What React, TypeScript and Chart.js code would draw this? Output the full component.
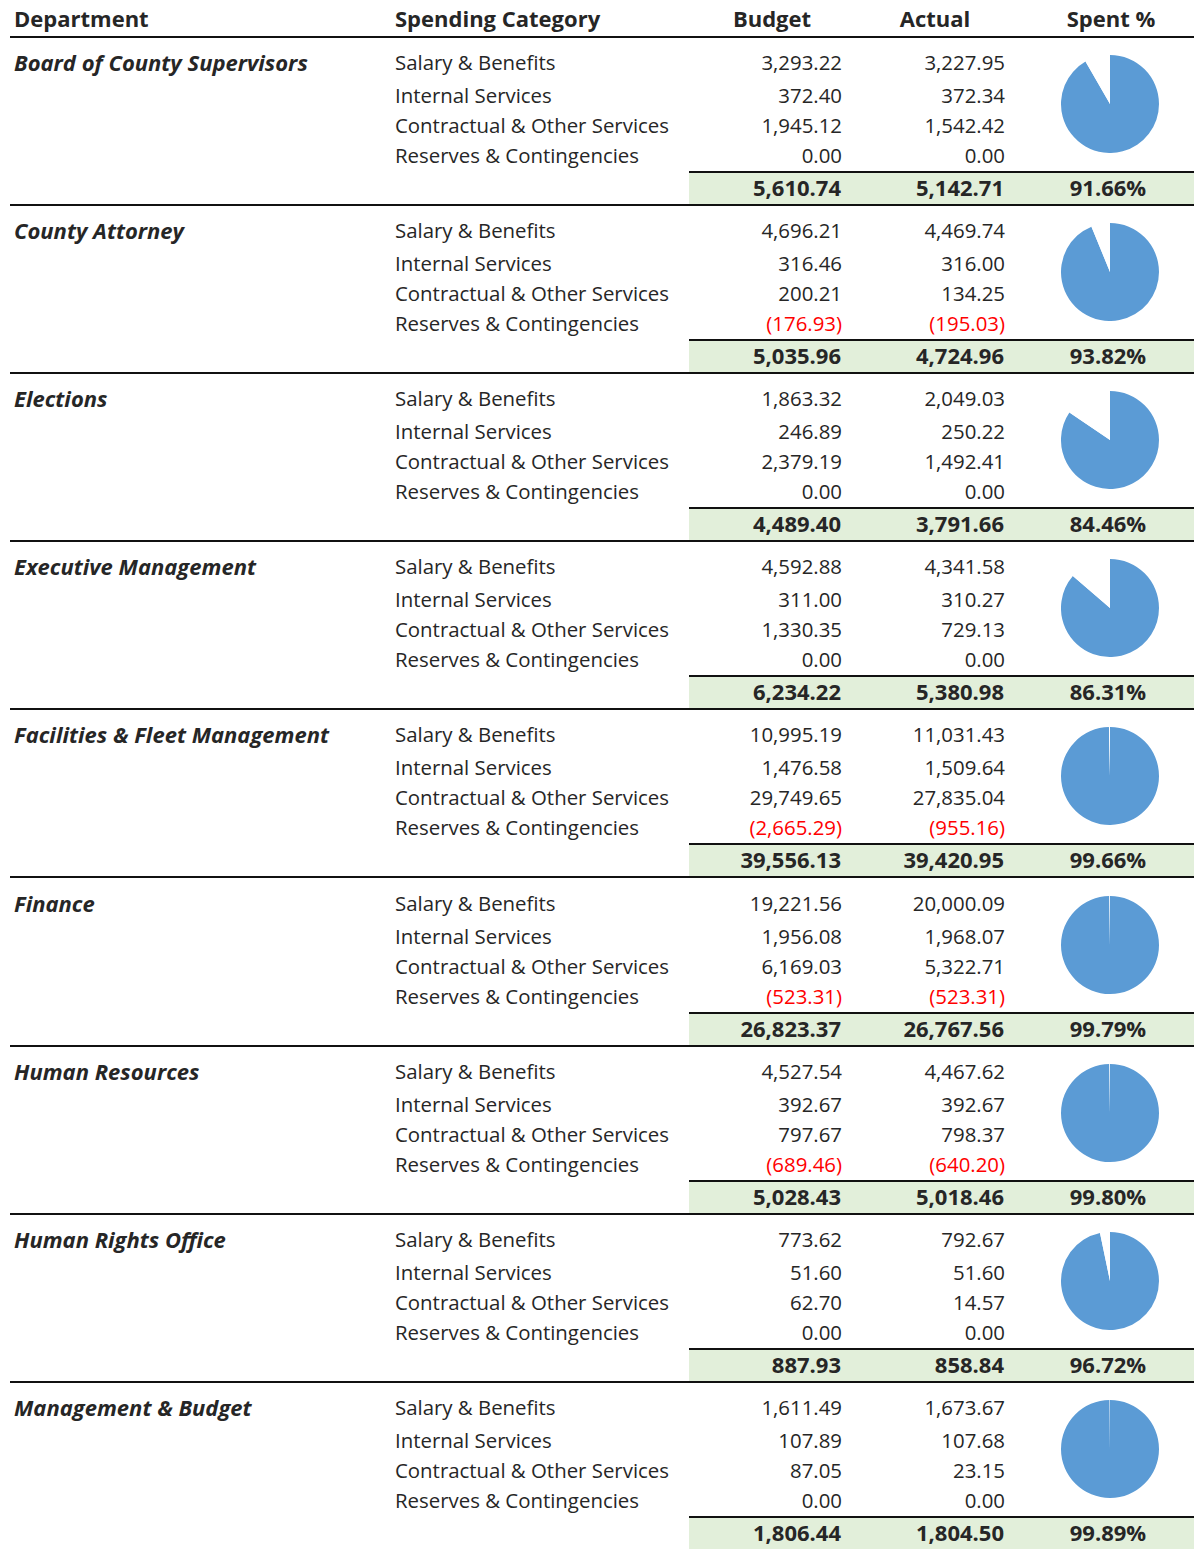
import React, { useEffect, useRef } from "react";
import { Chart, registerables } from "chart.js";

Chart.register(...registerables);

const departments = [
  "Board of County Supervisors",
  "County Attorney",
  "Elections",
  "Executive Management",
  "Facilities & Fleet Management",
  "Finance",
  "Human Resources",
  "Human Rights Office",
  "Management & Budget",
];

const categories = [
  "Salary & Benefits",
  "Internal Services",
  "Contractual & Other Services",
  "Reserves & Contingencies",
];

const headers = ["Department", "Spending Category", "Budget", "Actual", "Spent %"];

const budgetSalary = [3293.22, 4696.21, 1863.32, 4592.88, 10995.19, 19221.56, 4527.54, 773.62, 1611.49];
const budgetInternal = [372.4, 316.46, 246.89, 311.0, 1476.58, 1956.08, 392.67, 51.6, 107.89];
const budgetContractual = [1945.12, 200.21, 2379.19, 1330.35, 29749.65, 6169.03, 797.67, 62.7, 87.05];
const budgetReserves = [0, -176.93, 0, 0, -2665.29, -523.31, -689.46, 0, 0];

const actualSalary = [3227.95, 4469.74, 2049.03, 4341.58, 11031.43, 20000.09, 4467.62, 792.67, 1673.67];
const actualInternal = [372.34, 316.0, 250.22, 310.27, 1509.64, 1968.07, 392.67, 51.6, 107.68];
const actualContractual = [1542.42, 134.25, 1492.41, 729.13, 27835.04, 5322.71, 798.37, 14.57, 23.15];
const actualReserves = [0, -195.03, 0, 0, -955.16, -523.31, -640.2, 0, 0];

const budgetTotals = [5610.74, 5035.96, 4489.4, 6234.22, 39556.13, 26823.37, 5028.43, 887.93, 1806.44];
const actualTotals = [5142.71, 4724.96, 3791.66, 5380.98, 39420.95, 26767.56, 5018.46, 858.84, 1804.5];
const spentPct = [91.66, 93.82, 84.46, 86.31, 99.66, 99.79, 99.8, 96.72, 99.89];

const FONT = "'Open Sans', 'Noto Sans', sans-serif";
const TEXT = "#262626";
const BLUE = "#5B9BD5";
const GREEN = "#E2EFDA";
const RED = "#FF0000";

const fmt = (v: number) =>
  Math.abs(v).toLocaleString("en-US", { minimumFractionDigits: 2, maximumFractionDigits: 2 });

function Pie({ pct, left, top, size }: { pct: number; left: number; top: number; size: number }) {
  const ref = useRef<HTMLCanvasElement | null>(null);
  useEffect(() => {
    if (!ref.current) return;
    const chart = new Chart(ref.current, {
      type: "pie",
      data: {
        labels: ["Spent", "Remaining"],
        datasets: [
          {
            data: [pct, 100 - pct],
            backgroundColor: [BLUE, "#FFFFFF"],
            borderWidth: 0,
          },
        ],
      },
      options: {
        responsive: false,
        animation: false,
        events: [],
        layout: { padding: 0 },
        plugins: { legend: { display: false }, tooltip: { enabled: false } },
      },
    });
    return () => chart.destroy();
  }, [pct]);
  return (
    <canvas
      ref={ref}
      width={size}
      height={size}
      style={{ position: "absolute", left, top, width: size, height: size }}
    />
  );
}

function Txt({
  x,
  cy,
  text,
  align = "left",
  bold = false,
  italic = false,
  color = TEXT,
  size = 20,
  w = 400,
}: {
  x: number;
  cy: number;
  text: string;
  align?: "left" | "right" | "center";
  bold?: boolean;
  italic?: boolean;
  color?: string;
  size?: number;
  w?: number;
}) {
  let left = x;
  if (align === "right") left = x - w;
  if (align === "center") left = x - w / 2;
  return (
    <div
      style={{
        position: "absolute",
        left,
        top: cy - 15,
        width: w,
        height: 30,
        lineHeight: "30px",
        textAlign: align,
        fontFamily: FONT,
        fontSize: size,
        fontWeight: bold ? 700 : 400,
        fontStyle: italic ? "italic" : "normal",
        color,
        whiteSpace: "nowrap",
      }}
    >
      {text}
    </div>
  );
}

export default function App() {
  const BLOCK0 = 37;
  const BLOCK_H = 168.1;
  const rowOffsets = [25, 57.5, 87.5, 117.5];
  const BUDGET_R = 842;
  const ACTUAL_R = 1005;
  const SPENT_C = 1108;
  const REG = 20.4;
  const BOLD = 22;
  const els: React.ReactNode[] = [];

  departments.forEach((dep, i) => {
    const y0 = Math.round(BLOCK0 + BLOCK_H * i);
    const budgets = [budgetSalary[i], budgetInternal[i], budgetContractual[i], budgetReserves[i]];
    const actuals = [actualSalary[i], actualInternal[i], actualContractual[i], actualReserves[i]];
    els.push(<Txt key={`d${i}`} x={14} cy={y0 + 24.5} text={dep} bold italic size={BOLD} />);
    categories.forEach((c, r) => {
      const cy = y0 + rowOffsets[r];
      els.push(<Txt key={`c${i}-${r}`} x={395} cy={cy} text={c} size={REG} />);
      const b = budgets[r];
      const a = actuals[r];
      els.push(
        <Txt
          key={`b${i}-${r}`}
          x={BUDGET_R}
          cy={cy}
          align="right"
          w={150}
          size={REG}
          text={b < 0 ? `(${fmt(b)})` : fmt(b)}
          color={b < 0 ? RED : TEXT}
        />
      );
      els.push(
        <Txt
          key={`a${i}-${r}`}
          x={ACTUAL_R}
          cy={cy}
          align="right"
          w={150}
          size={REG}
          text={a < 0 ? `(${fmt(a)})` : fmt(a)}
          color={a < 0 ? RED : TEXT}
        />
      );
    });
    els.push(
      <div
        key={`g${i}`}
        style={{ position: "absolute", left: 689, top: y0 + 135, width: 505, height: 32, background: GREEN }}
      />
    );
    els.push(
      <div
        key={`gl${i}`}
        style={{ position: "absolute", left: 689, top: y0 + 134, width: 505, height: 2, background: "#111" }}
      />
    );
    els.push(
      <Txt key={`tb${i}`} x={BUDGET_R - 1} cy={y0 + 149.5} align="right" w={150} text={fmt(budgetTotals[i])} bold size={BOLD} />
    );
    els.push(
      <Txt key={`ta${i}`} x={ACTUAL_R - 1} cy={y0 + 149.5} align="right" w={150} text={fmt(actualTotals[i])} bold size={BOLD} />
    );
    els.push(
      <Txt key={`tp${i}`} x={SPENT_C} cy={y0 + 149.5} align="center" w={150} text={`${spentPct[i].toFixed(2)}%`} bold size={BOLD} />
    );
    els.push(<Pie key={`p${i}`} pct={spentPct[i]} left={1061} top={y0 + 18} size={98} />);
    if (i < departments.length - 1) {
      els.push(
        <div
          key={`bl${i}`}
          style={{ position: "absolute", left: 10, top: y0 + 167, width: 1184, height: 2, background: "#111" }}
        />
      );
    }
  });

  return (
    <div
      style={{
        position: "absolute",
        left: 0,
        top: 0,
        width: 1194,
        height: 1549,
        background: "#fff",
        overflow: "hidden",
      }}
    >
      <Txt x={14} cy={18} text={headers[0]} bold size={BOLD} />
      <Txt x={395} cy={18} text={headers[1]} bold size={BOLD} />
      <Txt x={772} cy={18} text={headers[2]} bold align="center" w={200} size={BOLD} />
      <Txt x={935} cy={18} text={headers[3]} bold align="center" w={200} size={BOLD} />
      <Txt x={1111} cy={18} text={headers[4]} bold align="center" w={200} size={BOLD} />
      <div style={{ position: "absolute", left: 10, top: 36, width: 1184, height: 2, background: "#111" }} />
      {els}
    </div>
  );
}
